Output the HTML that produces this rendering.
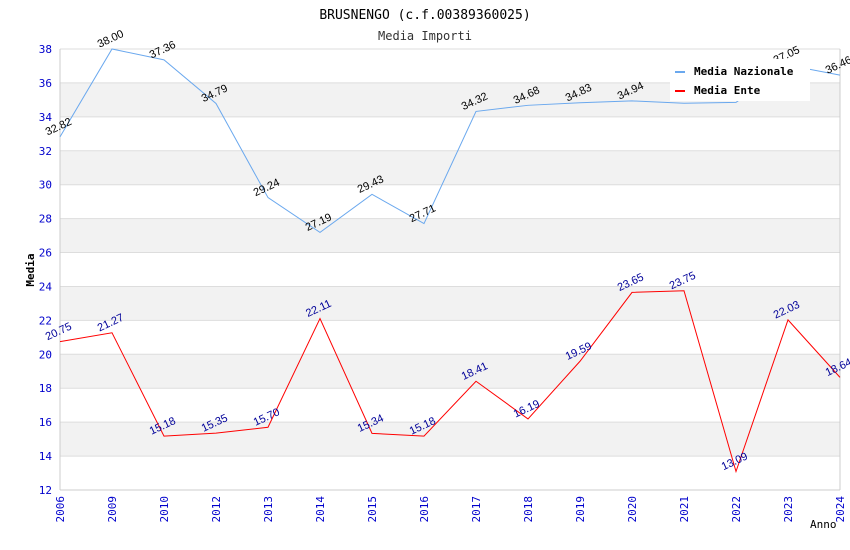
<!DOCTYPE html>
<html><head><meta charset="utf-8"><style>
body{margin:0;background:#fff;}
svg{display:block;font-family:"DejaVu Sans Mono","Liberation Mono",monospace;}
</style></head><body>
<svg id="chart" width="850" height="550" xmlns="http://www.w3.org/2000/svg">
<text x="425" y="19" text-anchor="middle" font-size="13" fill="#000">BRUSNENGO (c.f.00389360025)</text>
<text x="425" y="40" text-anchor="middle" font-size="12" fill="#333">Media Importi</text>
<g id="bands"></g><g id="grid"></g><g id="axes"></g><g id="series"></g>
<text transform="translate(34,270) rotate(-90)" text-anchor="middle" font-size="11" font-weight="bold" fill="#000">Media</text>
<text x="810" y="528" font-size="11" fill="#000">Anno</text>
<g>
<rect x="670" y="59" width="140" height="42" fill="#fff"/>
<rect x="675" y="71" width="10" height="2" fill="#6aa8ee"/>
<text x="694" y="75" font-size="11" font-weight="bold" fill="#000">Media Nazionale</text>
<rect x="675" y="90" width="10" height="2" fill="#ff0000"/>
<text x="694" y="94" font-size="11" font-weight="bold" fill="#000">Media Ente</text>
</g>
</svg>
<script>
const categories=["2006","2009","2010","2012","2013","2014","2015","2016","2017","2018","2019","2020","2021","2022","2023","2024"];
const nazionale=[32.82,38.00,37.36,34.79,29.24,27.19,29.43,27.71,34.32,34.68,34.83,34.94,34.80,34.85,37.05,36.46];
const ente=[20.75,21.27,15.18,15.35,15.70,22.11,15.34,15.18,18.41,16.19,19.59,23.65,23.75,13.09,22.03,18.64];
const yTicks=[12,14,16,18,20,22,24,26,28,30,32,34,36,38];
const hiddenLabels=[12,13];
const NS="http://www.w3.org/2000/svg";
const L=60,R=840,T=49,B=490,yMin=12,yMax=38;
const x=i=>L+i*(R-L)/(categories.length-1);
const y=v=>B-(v-yMin)/(yMax-yMin)*(B-T);
function mk(tag,attrs,parent,text){const e=document.createElementNS(NS,tag);for(const k in attrs)e.setAttribute(k,attrs[k]);if(text!==undefined)e.textContent=text;document.getElementById(parent).appendChild(e);return e;}
for(let i=0;i<yTicks.length-1;i++){
  if(yTicks[i]%4===2 && yTicks[i]>=14){
    const b=mk('rect',{x:L,y:y(yTicks[i+1]),width:R-L,height:y(yTicks[i])-y(yTicks[i+1]),fill:'#f2f2f2'},'bands');
    
    
  }
}
yTicks.forEach(t=>{
  const g=mk('line',{x1:L,x2:R,y1:y(t),y2:y(t),stroke:'#ddd','stroke-width':1},'grid');
  
  
  const lb=mk('text',{x:L-8,y:y(t)+4,'text-anchor':'end','font-size':11,fill:'#0000cc'},'axes',String(t));
  
  
});
const ax=mk('line',{x1:L,x2:L,y1:T,y2:B,stroke:'#ccc'},'axes');


const ax2=mk('line',{x1:R,x2:R,y1:T,y2:B,stroke:'#ccc'},'axes');


const ax3=mk('line',{x1:L,x2:R,y1:B,y2:B,stroke:'#ccc'},'axes');


categories.forEach((c,i)=>{
  const t=mk('text',{transform:`translate(${x(i)+4},${B+6}) rotate(-90)`,'text-anchor':'end','font-size':11,fill:'#0000cc'},'axes',c);
  
  
});
function series(vals,color,labColor,name,hide){
  const p=mk('polyline',{points:vals.map((v,i)=>x(i)+','+y(v)).join(' '),fill:'none',stroke:color,'stroke-width':1},'series');
  
  
  vals.forEach((v,i)=>{
    if(hide&&hiddenLabels.includes(i))return;
    const t=mk('text',{transform:`translate(${x(i)},${y(v)-7}) rotate(-25)`,'text-anchor':'middle','font-size':11,'font-family':'"Liberation Sans",sans-serif',fill:labColor},'series',v.toFixed(2));
    
    
  });
}
series(nazionale,'#6aa8ee','#000','nazionale',true);
series(ente,'#ff0000','#000099','ente',false);
</script>
</body></html>
